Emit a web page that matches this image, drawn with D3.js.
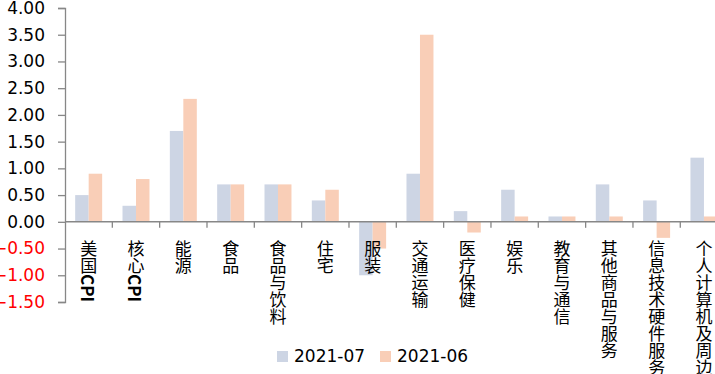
<!DOCTYPE html>
<html>
<head>
<meta charset="utf-8">
<script src="https://cdn.jsdelivr.net/npm/d3@7"></script>
<style>
  body { margin: 0; background: #fff; }
  svg { display: block; }
</style>
</head>
<body>
<div id="chart"></div>
<script>
const [width, height] = [715, 374];

// data
const categories = ["美国CPI", "核心CPI", "能源", "食品", "食品与饮料", "住宅", "服装",
  "交通运输", "医疗保健", "娱乐", "教育与通信", "其他商品与服务", "信息技术硬件服务", "个人计算机及周边"];
const seriesNames = ["2021-07", "2021-06"];
const jul = [0.5, 0.3, 1.7, 0.7, 0.7, 0.4, -1.0, 0.9, 0.2, 0.6, 0.1, 0.7, 0.4, 1.2];
const jun = [0.9, 0.8, 2.3, 0.7, 0.7, 0.6, -0.5, 3.5, -0.2, 0.1, 0.1, 0.1, -0.3, 0.1];
const yTicks = [4.0, 3.5, 3.0, 2.5, 2.0, 1.5, 1.0, 0.5, 0.0, -0.5, -1.0, -1.5];

const colors = ["#cdd5e4", "#f9ceb7"];
const axisColor = "#878787";

const rows = categories.map((c, i) => ({ cat: c, vals: [jul[i], jun[i]] }));

const svg = d3.select("#chart")
  .append("svg")
  .attr("width", width)
  .attr("height", height);

const x0 = d3.scaleBand()
  .domain(categories)
  .range([65, 65 + 14 * 47.33])
  .paddingInner(0.43)
  .paddingOuter(0.215);

const x1 = d3.scaleBand()
  .domain([0, 1])
  .range([0, x0.bandwidth()]);

const y = d3.scaleLinear()
  .domain([-1.5, 4.0])
  .range([302, 8]);

// bars
const groups = svg.append("g")
  .selectAll("g")
  .data(rows)
  .join("g")
  .attr("transform", d => `translate(${x0(d.cat)},0)`);

groups.selectAll("rect")
  .data(d => d.vals.map((v, k) => ({ v, k })))
  .join("rect")
  .attr("x", d => x1(d.k))
  .attr("width", x1.bandwidth())
  .attr("y", d => y(Math.max(0, d.v)))
  .attr("height", d => Math.abs(y(d.v) - y(0)))
  .attr("fill", d => colors[d.k]);

// y axis
const yAxis = svg.append("g")
  .attr("transform", "translate(65,0)")
  .call(d3.axisLeft(y).tickValues(yTicks).tickFormat(d3.format(".2f")).tickSize(7).tickPadding(13));
yAxis.select(".domain").attr("stroke", axisColor).attr("stroke-width", 1.3);
yAxis.selectAll(".tick line").attr("stroke", axisColor).attr("stroke-width", 1.3);
yAxis.selectAll(".tick text")
  .attr("font-family", "DejaVu Sans, sans-serif")
  .attr("font-size", 17)
  .attr("fill", d => d < 0 ? "#ff0000" : "#000");

// x axis at zero
const xStep = x0.step();
const boundaries = d3.range(1, categories.length).map(i => 65 + i * xStep);
const xAxis = svg.append("g");
xAxis.append("line")
  .attr("x1", 65).attr("x2", width)
  .attr("y1", y(0)).attr("y2", y(0))
  .attr("stroke", axisColor).attr("stroke-width", 1.5);
xAxis.selectAll("line.tk")
  .data(boundaries)
  .join("line")
  .attr("class", "tk")
  .attr("x1", d => d).attr("x2", d => d)
  .attr("y1", y(0)).attr("y2", y(0) + 6)
  .attr("stroke", axisColor).attr("stroke-width", 1.3);

// vertical category labels
const labels = svg.append("g")
  .selectAll("text")
  .data(categories)
  .join("text")
  .attr("x", d => x0(d) + x0.bandwidth() / 2)
  .attr("y", 240)
  .style("writing-mode", "vertical-rl")
  .attr("font-family", "Noto Sans CJK SC, sans-serif")
  .attr("font-size", 17)
  .attr("fill", "#000");

labels.each(function(d) {
  const parts = d.match(/[A-Za-z]+|[^A-Za-z]+/g);
  d3.select(this).selectAll("tspan")
    .data(parts)
    .join("tspan")
    .attr("font-weight", p => /[A-Za-z]/.test(p) ? "bold" : null)
    .text(p => p);
});

// legend
const legend = svg.append("g");
const legendX = [277, 380];
seriesNames.forEach((name, k) => {
  legend.append("rect")
    .attr("x", legendX[k]).attr("y", 351)
    .attr("width", 11).attr("height", 11)
    .attr("fill", colors[k]);
  legend.append("text")
    .attr("x", legendX[k] + 17).attr("y", 362)
    .attr("font-family", "DejaVu Sans, sans-serif")
    .attr("font-size", 17)
    .attr("fill", "#000")
    .text(name);
});
</script>
</body>
</html>
